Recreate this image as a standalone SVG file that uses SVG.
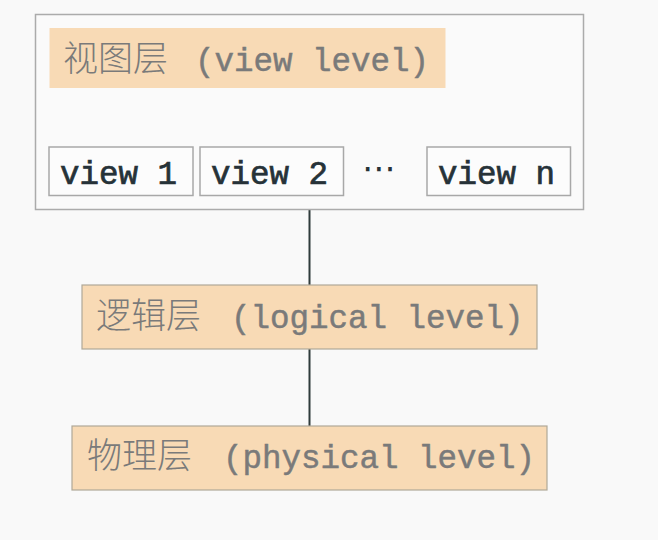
<svg xmlns="http://www.w3.org/2000/svg" width="658" height="540" viewBox="0 0 658 540">
<style>
.lvl{fill:#f8dab5;stroke:#b0a898;stroke-width:1.2}
.ttl{font-family:"Liberation Mono","Noto Sans CJK SC",monospace;font-size:32.5px;fill:#7a7a7a;stroke:#7a7a7a;stroke-width:0.5}
.cjk{font-family:"Noto Sans CJK SC",sans-serif;font-size:35px;fill:#7a7a7a;font-weight:300}
.vbox{fill:#fcfcfc;stroke:#a8a8a8;stroke-width:1.5}
.vt{font-family:"Liberation Mono",monospace;font-size:32.5px;fill:#263238;stroke:#263238;stroke-width:0.7}
.conn{stroke:#2f3b3b;stroke-width:2;fill:none}
</style>
<rect x="0" y="0" width="658" height="540" fill="#f9f9f9"/>
<g id="connectors">
<line class="conn" x1="309.5" y1="209" x2="309.5" y2="285"/>
<line class="conn" x1="309.5" y1="349" x2="309.5" y2="426"/>
</g>
<g id="view-layer">
<rect x="35.5" y="14.5" width="548" height="195" fill="#fafafa" stroke="#ababab" stroke-width="1.5"/>
<rect x="49.5" y="28" width="396" height="60" fill="#f8dab5"/>
<text y="71"><tspan class="cjk" x="63">视图层</tspan><tspan class="ttl" x="195">(view level)</tspan></text>
</g>
<g id="view1">
<rect class="vbox" x="49" y="147" width="144" height="48.5"/>
<text class="vt" x="60" y="184">view 1</text>
</g>
<g id="view2">
<rect class="vbox" x="200" y="147" width="143.5" height="48.5"/>
<text class="vt" x="211" y="184">view 2</text>
</g>
<text id="dots" x="379" y="180" text-anchor="middle" font-family="DejaVu Sans" font-size="34" fill="#263238">⋯</text>
<g id="viewn">
<rect class="vbox" x="427" y="147" width="143.5" height="48.5"/>
<text class="vt" x="438" y="184">view n</text>
</g>
<g id="logical">
<rect class="lvl" x="82" y="285" width="455" height="64"/>
<text y="328"><tspan class="cjk" x="96">逻辑层</tspan><tspan class="ttl" x="231">(logical level)</tspan></text>
</g>
<g id="physical">
<rect class="lvl" x="72" y="426" width="475" height="64"/>
<text y="468"><tspan class="cjk" x="87">物理层</tspan><tspan class="ttl" x="223">(physical level)</tspan></text>
</g>
</svg>
